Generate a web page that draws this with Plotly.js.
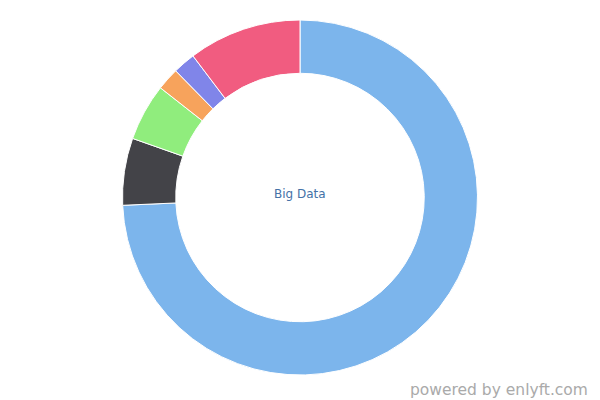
<!DOCTYPE html>
<html>
<head>
<meta charset="utf-8">
<script src="https://cdn.plot.ly/plotly-3.0.1.min.js"></script>
<style>html,body{margin:0;padding:0;background:#fff;}#chart{width:600px;height:400px;}</style>
</head>
<body>
<div id="chart"></div>
<script>
const labels = ["Big Data A", "Big Data B", "Big Data C", "Big Data D", "Big Data E", "Big Data F"];
const values = [74.3, 6.1, 5.2, 2.05, 2.05, 10.3];
const colors = ["#7cb5ec", "#434348", "#90ed7d", "#f7a35c", "#8085e9", "#f15c80"];
const centerText = "Big Data";
const watermark = "powered by enlyft.com";

Plotly.newPlot("chart", [{
  type: "pie",
  labels: labels,
  values: values,
  hole: 0.7,
  sort: false,
  direction: "clockwise",
  rotation: 0,
  textinfo: "none",
  hoverinfo: "none",
  marker: {colors: colors, line: {color: "#ffffff", width: 1}},
  domain: {x: [0, 1], y: [0, 1]}
}], {
  width: 600, height: 400,
  margin: {l: 0, r: 0, t: 20, b: 25},
  showlegend: false,
  paper_bgcolor: "#ffffff",
  font: {family: "DejaVu Sans, sans-serif"},
  annotations: [
    {text: centerText, x: 0.5, y: 0.5, xref: "paper", yref: "paper", showarrow: false,
     yshift: 4,
     font: {size: 12, color: "#4572a7", family: "DejaVu Sans, sans-serif"}},
    {text: watermark, x: 590, y: 390, xref: "paper", yref: "paper", showarrow: false,
     xanchor: "right", yanchor: "middle",
     font: {size: 15.5, color: "#aaaaaa", family: "DejaVu Sans, sans-serif"}}
  ]
}, {displayModeBar: false, staticPlot: true}).then(function(gd){
  const fl = gd._fullLayout;
  const xp = (590 - fl.margin.l) / fl._size.w;
  const yp = (fl.height - 390 - fl.margin.b) / fl._size.h;
  Plotly.relayout(gd, {"annotations[1].x": xp, "annotations[1].y": yp});
});
</script>
</body>
</html>
